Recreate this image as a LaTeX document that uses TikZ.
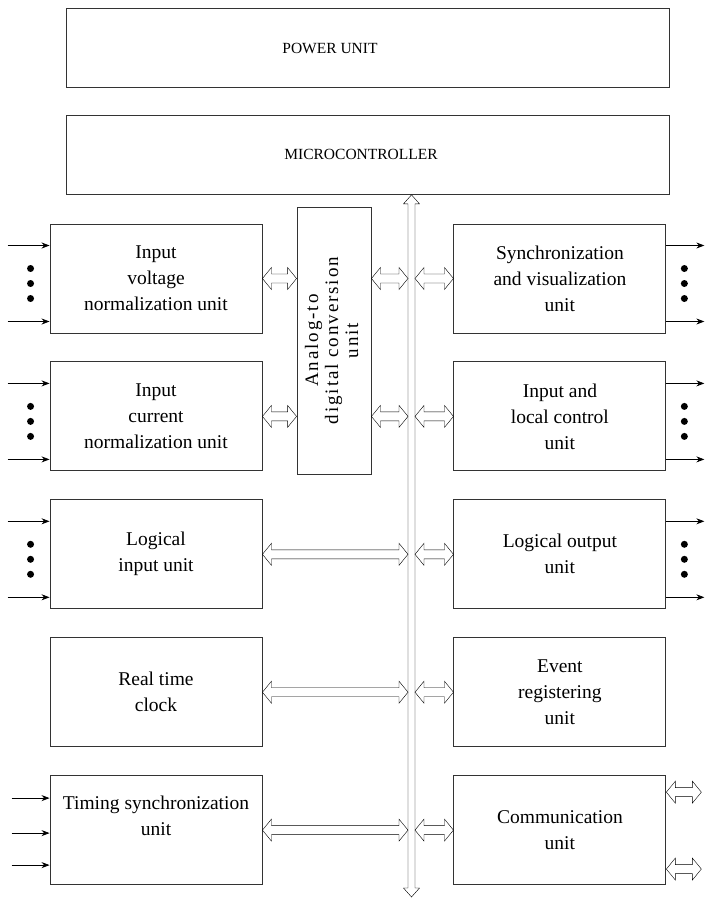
\documentclass[tikz,border=0pt]{standalone}
\usepackage{fontspec}
\setmainfont{Liberation Serif}
\usetikzlibrary{arrows.meta, positioning, calc}

\begin{document}
\begin{tikzpicture}[
  x=1pt, y=-1pt,
  node distance=28pt,
  box/.style={rectangle, draw=black!80, line width=0.9pt, minimum width=212pt,
              minimum height=109pt, inner sep=0pt, align=center,
              font=\fontsize{19.5}{26}\selectfont},
  wide/.style={box, minimum width=603pt, minimum height=79pt},
  caps/.style={font=\fontsize{15.5}{19}\selectfont},
  txt/.style={font=\fontsize{19.5}{26}\selectfont, align=center},
  sig/.style={-{Stealth[length=8pt, width=6pt]}, line width=0.8pt},
  dot/.style={circle, fill=black, inner sep=0pt, minimum size=7pt},
  hollow/.style={line width=0.8pt, to path={
      let \p1=(\tikztostart), \p2=(\tikztotarget) in
      (\x1,\y1) -- (\x1+9pt,\y1+11pt) -- (\x1+9pt,\y1+4.5pt) -- (\x2-9pt,\y1+4.5pt)
      -- (\x2-9pt,\y1+11pt) -- (\x2,\y1) -- (\x2-9pt,\y1-11pt) -- (\x2-9pt,\y1-4.5pt)
      -- (\x1+9pt,\y1-4.5pt) -- (\x1+9pt,\y1-11pt) -- cycle}},
  bus/.style={line width=0.9pt, to path={
      let \p1=(\tikztostart), \p2=(\tikztotarget) in
      (\x1,\y1) -- (\x1+8pt,\y1-9pt) -- (\x1+3.5pt,\y1-9pt) -- (\x1+3.5pt,\y2+9pt)
      -- (\x1+8pt,\y2+9pt) -- (\x1,\y2) -- (\x1-8pt,\y2+9pt) -- (\x1-3.5pt,\y2+9pt)
      -- (\x1-3.5pt,\y1-9pt) -- (\x1-8pt,\y1-9pt) -- cycle}}
]
\useasboundingbox (0,0) rectangle (709,899);

% top blocks
\node[wide, label={[caps, xshift=-37.5pt]center:POWER UNIT}] (pwr) at (367.5,48) {};
\node[wide, below=27pt of pwr, label={[caps, xshift=-6.5pt]center:MICROCONTROLLER}] (mcu) {};

% left column
\node[box] (vin) at (156,278.5) {Input\\voltage\\normalization unit};
\node[box, below=of vin] (cin) {Input\\current\\normalization unit};
\node[box, below=of cin] (lin) {Logical\\input unit};
\node[box, below=of lin] (rtc) {Real time\\clock};
\node[box, below=of rtc, label={[txt, yshift=14pt]center:Timing synchronization\\unit}] (tsu) {};

% right column
\node[box, right=191pt of vin] (sync) {Synchronization\\and visualization\\unit};
\node[box, below=of sync] (ilc) {Input and\\local control\\unit};
\node[box, below=of ilc] (lout) {Logical output\\unit};
\node[box, below=of lout] (evt) {Event\\registering\\unit};
\node[box, below=of evt] (comm) {Communication\\unit};

% converter
\node[box, minimum width=74pt, minimum height=267pt] (adc) at (334,340.5)
  {\rotatebox{90}{\fontsize{19}{20}\selectfont\addfontfeature{LetterSpace=10}%
   \begin{tabular}{@{}c@{}}Analog-to\\digital conversion\\unit\end{tabular}}};

% bus
\coordinate (bustop) at ([xshift=44pt]mcu.south);
\coordinate (busbot) at (bustop |- 0,897);
\coordinate (busL) at ([xshift=-3.5pt]bustop);
\coordinate (busR) at ([xshift=3.5pt]bustop);
\draw (bustop) to[bus] (busbot);

% links to the bus
\draw (vin.east) to[hollow] (vin.east -| adc.west);
\draw (cin.east) to[hollow] (cin.east -| adc.west);
\draw (vin.east -| adc.east) to[hollow] (vin.east -| busL);
\draw (cin.east -| adc.east) to[hollow] (cin.east -| busL);
\foreach \b in {lin, rtc, tsu}
  \draw (\b.east) to[hollow] (\b.east -| busL);
\foreach \b in {sync, ilc, lout, evt, comm}
  \draw (\b.west -| busR) to[hollow] (\b.west);

% external lines
\foreach \b in {vin, cin, lin}{
  \coordinate (\b-a) at ([xshift=-42pt, yshift=33pt]\b.west);
  \coordinate (\b-b) at ([xshift=-42pt, yshift=-43pt]\b.west);
  \draw[sig] (\b-a) -- (\b-a -| \b.west);
  \draw[sig] (\b-b) -- (\b-b -| \b.west);
  \foreach \k in {1,2,3}
    \node[dot] (\b-d\k) at ([xshift=-19pt, yshift={25pt-15pt*\k}]\b.west) {};
}
\foreach \b in {sync, ilc, lout}{
  \coordinate (\b-a) at ([xshift=38pt, yshift=33pt]\b.east);
  \coordinate (\b-b) at ([xshift=38pt, yshift=-43pt]\b.east);
  \draw[sig] (\b-a -| \b.east) -- (\b-a);
  \draw[sig] (\b-b -| \b.east) -- (\b-b);
  \foreach \k in {1,2,3}
    \node[dot] (\b-d\k) at ([xshift=18pt, yshift={25pt-15pt*\k}]\b.east) {};
}
\foreach \k/\dy in {1/32, 2/-3, 3/-35}{
  \coordinate (tsu-i\k) at ([xshift=-38pt, yshift=\dy pt]tsu.west);
  \draw[sig] (tsu-i\k) -- (tsu-i\k -| tsu.west);
}
\coordinate (comm-o1) at ([xshift=35pt, yshift=-17pt]comm.north east);
\coordinate (comm-o2) at ([xshift=35pt, yshift=16pt]comm.south east);
\draw (comm-o1 -| comm.east) to[hollow] (comm-o1);
\draw (comm-o2 -| comm.east) to[hollow] (comm-o2);

\end{tikzpicture}
\end{document}
